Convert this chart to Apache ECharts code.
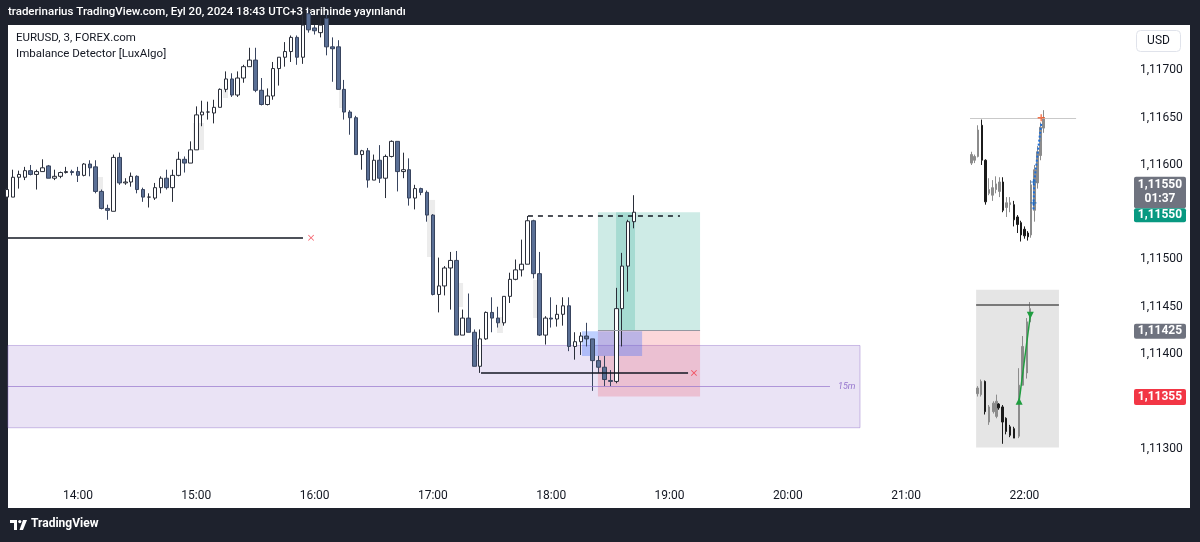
<!DOCTYPE html>
<html lang="tr">
<head>
<meta charset="UTF-8">
<title>EURUSD 3m - Imbalance Detector</title>
<script src="https://cdn.jsdelivr.net/npm/echarts@6/dist/echarts.min.js"></script>
<style>
  html, body { margin: 0; padding: 0; background: #1e222d; }
  #chart { width: 1200px; height: 542px; }
</style>
</head>
<body>
<div id="chart"></div>
<script>
// 3 minute bars, first visible bar 13:24, last (live) bar 18:42
const firstBar = 13 * 60 + 24;
const barStep = 3;
// [open, close, low, high]
const candles = [
  [1.11566,1.11574,1.11563,1.11576],[1.11566,1.11587,1.11566,1.11595],[1.11587,1.11590,1.11575,1.11594],
  [1.11587,1.11594,1.11584,1.11598],[1.11594,1.11590,1.11589,1.11600],[1.11590,1.11593,1.11574,1.11595],
  [1.11593,1.11597,1.11593,1.11606],[1.11599,1.11586,1.11586,1.11600],[1.11586,1.11588,1.11584,1.11595],
  [1.11588,1.11592,1.11586,1.11593],[1.11592,1.11593,1.11591,1.11598],[1.11593,1.11592,1.11589,1.11595],
  [1.11593,1.11589,1.11582,1.11598],[1.11589,1.11601,1.11588,1.11602],[1.11601,1.11597,1.11588,1.11605],
  [1.11598,1.11572,1.11570,1.11605],[1.11572,1.11554,1.11553,1.11574],[1.11554,1.11552,1.11542,1.11558],
  [1.11551,1.11608,1.11551,1.11611],[1.11608,1.11581,1.11579,1.11613],[1.11581,1.11582,1.11579,1.11586],
  [1.11582,1.11588,1.11577,1.11592],[1.11588,1.11574,1.11570,1.11589],[1.11574,1.11566,1.11561,1.11576],
  [1.11566,1.11566,1.11555,1.11570],[1.11565,1.11576,1.11563,1.11581],[1.11576,1.11586,1.11570,1.11588],
  [1.11586,1.11576,1.11574,1.11595],[1.11576,1.11589,1.11561,1.11595],[1.11589,1.11606,1.11588,1.11614],
  [1.11606,1.11602,1.11592,1.11609],[1.11602,1.11616,1.11602,1.11625],[1.11616,1.11653,1.11616,1.11662],
  [1.11653,1.11656,1.11641,1.11668],[1.11656,1.11656,1.11648,1.11667],[1.11655,1.11661,1.11644,1.11669],
  [1.11661,1.11680,1.11661,1.11681],[1.11680,1.11691,1.11677,1.11699],[1.11691,1.11674,1.11672,1.11697],
  [1.11674,1.11692,1.11672,1.11699],[1.11692,1.11704,1.11687,1.11706],[1.11704,1.11711,1.11704,1.11724],
  [1.11711,1.11679,1.11677,1.11724],[1.11679,1.11664,1.11663,1.11692],[1.11664,1.11673,1.11663,1.11681],
  [1.11673,1.11702,1.11669,1.11709],[1.11702,1.11714,1.11684,1.11714],[1.11714,1.11720,1.11704,1.11730],
  [1.11720,1.11735,1.11709,1.11737],[1.11735,1.11714,1.11706,1.11737],[1.11714,1.11748,1.11707,1.11760],
  [1.11760,1.11743,1.11740,1.11765],[1.11745,1.11742,1.11738,1.11748],[1.11740,1.11748,1.11735,1.11756],
  [1.11755,1.11725,1.11716,1.11760],[1.11725,1.11723,1.11688,1.11735],[1.11725,1.11680,1.11680,1.11732],
  [1.11680,1.11656,1.11648,1.11690],[1.11656,1.11650,1.11632,1.11658],[1.11650,1.11611,1.11611,1.11652],
  [1.11611,1.11615,1.11595,1.11616],[1.11615,1.11584,1.11576,1.11618],[1.11584,1.11605,1.11584,1.11611],
  [1.11605,1.11586,1.11581,1.11621],[1.11586,1.11609,1.11565,1.11611],[1.11609,1.11625,1.11608,1.11626],
  [1.11625,1.11593,1.11572,1.11625],[1.11593,1.11595,1.11586,1.11613],[1.11595,1.11565,1.11557,1.11607],
  [1.11565,1.11575,1.11553,1.11579],[1.11575,1.11571,1.11568,1.11576],[1.11571,1.11547,1.11540,1.11573],
  [1.11547,1.11463,1.11462,1.11548],[1.11463,1.11472,1.11444,1.11502],[1.11472,1.11491,1.11462,1.11493],
  [1.11491,1.11499,1.11447,1.11508],[1.11499,1.11420,1.11420,1.11509],[1.11420,1.11438,1.11420,1.11447],
  [1.11438,1.11423,1.11423,1.11464],[1.11423,1.11387,1.11387,1.11426],[1.11387,1.11416,1.11380,1.11426],
  [1.11416,1.11444,1.11415,1.11445],[1.11444,1.11438,1.11423,1.11460],[1.11438,1.11433,1.11428,1.11450],
  [1.11433,1.11461,1.11430,1.11461],[1.11461,1.11479,1.11454,1.11486],[1.11479,1.11489,1.11478,1.11500],
  [1.11489,1.11495,1.11482,1.11521],[1.11495,1.11541,1.11495,1.11546],[1.11541,1.11485,1.11480,1.11542],
  [1.11485,1.11420,1.11419,1.11508],[1.11420,1.11438,1.11410,1.11440],[1.11438,1.11437,1.11428,1.11460],
  [1.11437,1.11442,1.11429,1.11452],[1.11442,1.11451,1.11430,1.11460],[1.11451,1.11408,1.11403,1.11460],
  [1.11408,1.11413,1.11394,1.11423],[1.11413,1.11419,1.11399,1.11423],[1.11419,1.11416,1.11408,1.11433],
  [1.11416,1.11393,1.11361,1.11416],[1.11393,1.11386,1.11380,1.11398],[1.11386,1.11373,1.11366,1.11398],
  [1.11372,1.11371,1.11366,1.11383],[1.11371,1.11448,1.11369,1.11470],[1.11448,1.11493,1.11408,1.11507],
  [1.11493,1.11540,1.11466,1.11542],[1.11540,1.11550,1.11533,1.11568]
];

// faint imbalance shading behind bars, [[minuteFrom, priceTop], [minuteTo, priceBottom]]
const gapShades = [
  [[850.1, 1.115873], [852.7, 1.115556]],
  [[898.3, 1.116444], [903.9, 1.116159]],
  [[913.5, 1.116794], [916.1, 1.116709]],
  [[972.4, 1.116794], [974.4, 1.116603]],
  [[1017.0, 1.115630], [1021.1, 1.115026]],
  [[1032.7, 1.114751], [1035.3, 1.114497]],
  [[1052.5, 1.114392], [1055.5, 1.114222]],
  [[1070.8, 1.114783], [1073.3, 1.114381]]
];

// pasted screenshot #1 (upper right), [minute, open, close, low, high]
const snapA = [
  [1293.2,1.11602,1.11611,1.11600,1.11614],[1294.7,1.11605,1.11609,1.11602,1.11611],
  [1296.4,1.11609,1.11637,1.11608,1.11642],[1298.5,1.11642,1.11605,1.11600,1.11648],
  [1300.3,1.11605,1.11561,1.11558,1.11606],[1302.0,1.11570,1.11574,1.11568,1.11586],
  [1303.8,1.11568,1.11576,1.11562,1.11584],[1305.6,1.11574,1.11580,1.11570,1.11588],
  [1307.4,1.11572,1.11582,1.11566,1.11587],[1309.1,1.11582,1.11552,1.11550,1.11587],
  [1310.9,1.11555,1.11560,1.11545,1.11566],[1312.7,1.11558,1.11560,1.11550,1.11566],
  [1314.7,1.11558,1.11542,1.11535,1.11562],[1316.5,1.11545,1.11537,1.11528,1.11547],
  [1318.3,1.11539,1.11526,1.11519,1.11541],[1320.0,1.11532,1.11525,1.11522,1.11535],
  [1321.8,1.11528,1.11524,1.11520,1.11530],[1323.3,1.11526,1.11579,1.11523,1.11584],
  [1325.1,1.11552,1.11595,1.11540,1.11600],[1326.6,1.11581,1.11614,1.11575,1.11620],
  [1328.1,1.11610,1.11640,1.11605,1.11645],[1329.7,1.11639,1.11650,1.11634,1.11658]
];
const snapAPath = [[1324.6,1.11553],[1325.0,1.11582],[1328.6,1.11645]];
const snapAPlus = [[1324.6,1.11560],[1324.6,1.11582]];
const snapATop = [[1328.5,1.11650]];

// pasted screenshot #2 (grey box), [minute, open, close, low, high]
const snapB = [
  [1296.1,1.11358,1.11364,1.11355,1.11366],[1298.0,1.11357,1.11371,1.11355,1.11373],
  [1300.0,1.11371,1.11339,1.11336,1.11372],[1302.0,1.11328,1.11344,1.11325,1.11346],
  [1304.2,1.11339,1.11348,1.11337,1.11350],[1305.9,1.11334,1.11350,1.11332,1.11357],
  [1306.8,1.11347,1.11343,1.11341,1.11348],[1308.8,1.11344,1.11328,1.11305,1.11346],
  [1310.7,1.11332,1.11318,1.11315,1.11333],[1312.7,1.11323,1.11314,1.11312,1.11325],
  [1314.7,1.11321,1.11311,1.11311,1.11323],[1317.3,1.11313,1.11367,1.11311,1.11385],
  [1319.1,1.11367,1.11408,1.11367,1.11419],[1321.2,1.11380,1.11434,1.11374,1.11438],
  [1322.8,1.11434,1.11448,1.11432,1.11455]
];
const snapBPath = [[1317.3,1.11350],[1323.0,1.11441]];

// drawings
const lastPrice = 1.11550;
const entryPrice = 1.11425;
const targetPrice = 1.11550;
const stopPrice = 1.11355;
const imbalanceZone = [[804.5, 1.11409], [1236.6, 1.11322]];
const imbalanceMid = [[804.5, 1.113655], [1221.4, 1.113655]];
const positionSpan = [1103.7, 1155.5];
const activeSpan = [1112.9, 1122.5];
const blueBox = [[1095.6, 1.11424], [1126.1, 1.11398]];
const snapBBox = [[1295.5, 1.11468], [1337.5, 1.11301]];
const swingLow1 = [[804.5, 1.11523], [954.1, 1.11523]];
const swingLow2 = [[1044.4, 1.11380], [1149.4, 1.11380]];
const swingHigh = [[1068.2, 1.11546], [1145.3, 1.11546]];
const snapALevel = [[1292.4, 1.116497], [1346.2, 1.116497]];
const snapBLevel = [[1295.5, 1.11452], [1337.5, 1.11452]];
const crossMarks = [[958.2, 1.11523], [1152.4, 1.11380]];

const timeTicks = [840, 900, 960, 1020, 1080, 1140, 1200, 1260, 1320];
const priceTicks = [1.113, 1.114, 1.1145, 1.115, 1.116, 1.1165, 1.117];

const FONT = 'Roboto, "DejaVu Sans", sans-serif';
const TEXT = '#131722';
const PLUS = 'path://M4,0h2v4h4v2h-4v4h-2v-4h-4v-2h4z';

const chart = echarts.init(document.getElementById('chart'));

const mainData = candles.map((c, i) => [firstBar + i * barStep, c[0], c[1], c[2], c[3]]);
const seg = (a, style) => [{ coord: a[0], lineStyle: style }, { coord: a[1] }];
const box = (a, style) => [{ coord: a[0], itemStyle: style }, { coord: a[1] }];
const fmtPrice = v => v.toFixed(5).replace('.', ',');

const staticGraphics = [
  { type: 'rect', z: -1, shape: { x: 8, y: 25, width: 1182, height: 483 }, style: { fill: '#ffffff' } },
  { type: 'text', left: 8, top: 6, style: { text: 'traderinarius TradingView.com, Eyl 20, 2024 18:43 UTC+3 tarihinde yayınlandı', fill: '#ffffff', font: '500 11.5px ' + FONT } },
  { type: 'text', left: 16, top: 32, style: { text: 'EURUSD, 3, FOREX.com', fill: TEXT, font: '11.5px ' + FONT } },
  { type: 'text', left: 16, top: 48, style: { text: 'Imbalance Detector [LuxAlgo]', fill: TEXT, font: '11.5px ' + FONT } },
  { type: 'rect', shape: { x: 1136.5, y: 30.5, width: 44, height: 21, r: 4 }, style: { fill: '#ffffff', stroke: '#e0e3eb', lineWidth: 1 } },
  { type: 'text', x: 1158.5, y: 41, style: { text: 'USD', fill: TEXT, font: '12px ' + FONT, align: 'center', verticalAlign: 'middle' } },
  { type: 'polygon', shape: { points: [[10, 520], [17, 520], [17, 530], [14, 530], [14, 523], [10, 523]] }, style: { fill: '#ffffff' } },
  { type: 'circle', shape: { cx: 19.8, cy: 521.6, r: 1.6 }, style: { fill: '#ffffff' } },
  { type: 'polygon', shape: { points: [[23, 520], [27, 520], [23, 530], [19.5, 530]] }, style: { fill: '#ffffff' } },
  { type: 'text', left: 31, top: 518, style: { text: 'TradingView', fill: '#ffffff', font: 'bold 12px ' + FONT } }
];

const option = {
  backgroundColor: '#1e222d',
  animation: false,
  grid: { left: 8, right: 76, top: 25, bottom: 64 },
  xAxis: {
    type: 'value',
    min: 804.5,
    max: 1370.5,
    axisLine: { show: false },
    axisTick: { show: false },
    splitLine: { show: false },
    axisLabel: {
      customValues: timeTicks,
      color: TEXT,
      fontFamily: FONT,
      fontSize: 12,
      margin: 12,
      formatter: v => String(Math.floor(v / 60)).padStart(2, '0') + ':00'
    }
  },
  yAxis: {
    type: 'value',
    position: 'right',
    min: 1.112688,
    max: 1.117481,
    axisLine: { show: false },
    axisTick: { show: false },
    splitLine: { show: false },
    axisLabel: {
      customValues: priceTicks,
      color: TEXT,
      fontFamily: FONT,
      fontSize: 12,
      margin: 16,
      formatter: fmtPrice
    }
  },
  series: [
    {
      name: 'zones',
      type: 'line',
      data: [],
      z: 1,
      markArea: {
        silent: true,
        label: { show: false },
        data: gapShades.map(g => box(g, { color: '#ececec' })).concat([
          box(imbalanceZone, { color: 'rgba(149,117,205,0.2)', borderColor: 'rgba(149,117,205,0.45)', borderWidth: 1 }),
          box(snapBBox, { color: '#e5e5e5' }),
          box([[positionSpan[0], targetPrice], [positionSpan[1], entryPrice]], { color: 'rgba(8,153,129,0.2)' }),
          box([[positionSpan[0], entryPrice], [positionSpan[1], stopPrice]], { color: 'rgba(242,54,69,0.2)' }),
          box([[activeSpan[0], targetPrice], [activeSpan[1], entryPrice]], { color: 'rgba(8,153,129,0.2)' }),
          box(blueBox, { color: 'rgba(41,98,255,0.3)' })
        ])
      }
    },
    {
      name: 'levels',
      type: 'line',
      data: [],
      z: 2,
      markLine: {
        silent: true,
        symbol: 'none',
        label: { show: false },
        data: [
          { yAxis: lastPrice, lineStyle: { color: '#8a8d96', type: [1, 2], width: 1 } },
          seg(swingLow1, { color: '#131722', type: 'solid', width: 1.5 }),
          seg(swingLow2, { color: '#131722', type: 'solid', width: 1.5 }),
          seg(swingHigh, { color: '#131722', type: [5, 5], width: 1.5 }),
          seg([[positionSpan[0], entryPrice], [positionSpan[1], entryPrice]], { color: '#9598a1', type: 'solid', width: 1 }),
          seg(snapALevel, { color: '#c9c9c9', type: 'solid', width: 1 }),
          seg(snapBLevel, { color: '#555555', type: 'solid', width: 1.5 }),
          [
            { coord: imbalanceMid[0], lineStyle: { color: 'rgba(149,117,205,0.7)', type: 'solid', width: 1 },
              label: { show: true, position: 'end', formatter: '15m', color: '#9575cd', fontSize: 9, fontStyle: 'italic', fontFamily: FONT, distance: 8 } },
            { coord: imbalanceMid[1] }
          ]
        ]
      }
    },
    {
      name: 'EURUSD',
      type: 'candlestick',
      data: mainData,
      encode: { x: 0, y: [1, 2, 3, 4] },
      barWidth: 4,
      z: 3,
      clip: true,
      itemStyle: {
        color: '#ffffff',
        color0: '#5a6f95',
        borderColor: '#2a2e39',
        borderColor0: '#38445e',
        borderWidth: 1
      }
    },
    {
      name: 'snapA',
      type: 'candlestick',
      data: snapA,
      encode: { x: 0, y: [1, 2, 3, 4] },
      barWidth: 2,
      z: 3,
      itemStyle: { color: '#8c8c8c', color0: '#1b1b1b', borderColor: '#8c8c8c', borderColor0: '#1b1b1b', borderWidth: 1 }
    },
    {
      name: 'snapB',
      type: 'candlestick',
      data: snapB,
      encode: { x: 0, y: [1, 2, 3, 4] },
      barWidth: 2,
      z: 3,
      itemStyle: { color: '#8c8c8c', color0: '#1b1b1b', borderColor: '#8c8c8c', borderColor0: '#1b1b1b', borderWidth: 1 }
    },
    {
      name: 'snapAPath',
      type: 'line',
      data: snapAPath,
      z: 4,
      symbol: 'none',
      lineStyle: { color: '#1e6fd9', width: 2, type: [2, 2] }
    },
    {
      name: 'snapBPath',
      type: 'line',
      data: [
        { value: snapBPath[0], symbolRotate: 0 },
        { value: snapBPath[1], symbolRotate: 180 }
      ],
      z: 4,
      symbol: 'triangle',
      symbolSize: 7,
      itemStyle: { color: '#1f9d3f' },
      lineStyle: { color: '#1f9d3f', width: 1.5 }
    },
    {
      name: 'plus',
      type: 'scatter',
      data: snapAPlus,
      z: 5,
      symbol: PLUS,
      symbolSize: 6,
      itemStyle: { color: '#1565c0' }
    },
    {
      name: 'top',
      type: 'scatter',
      data: snapATop,
      z: 5,
      symbol: PLUS,
      symbolSize: 7,
      itemStyle: { color: '#f4511e' }
    },
    {
      name: 'cross',
      type: 'scatter',
      data: crossMarks,
      z: 5,
      symbol: 'path://M1,0L5,4L9,0L10,1L6,5L10,9L9,10L5,6L1,10L0,9L4,5L0,1Z',
      symbolSize: 6,
      itemStyle: { color: '#f23645' }
    }
  ],
  graphic: staticGraphics
};

chart.setOption(option);

// price-scale badges, placed through the y axis
const yOf = p => chart.convertToPixel({ yAxisIndex: 0 }, p);
const badgeX = 1134, badgeW = 52, midX = badgeX + badgeW / 2;
const yLast = yOf(lastPrice), yEntry = yOf(entryPrice), yStop = yOf(stopPrice);
const badgeFont = 'bold 12px ' + FONT;
const badgeText = (y, text) => ({ type: 'text', z: 51, x: midX, y: y, style: { text: text, fill: '#ffffff', font: badgeFont, align: 'center', verticalAlign: 'middle' } });
const badgeRect = (y, h, fill) => ({ type: 'rect', z: 50, shape: { x: badgeX, y: y, width: badgeW, height: h, r: 2 }, style: { fill: fill } });

chart.setOption({
  graphic: staticGraphics.concat([
    badgeRect(yLast - 35.5, 31.5, '#6f737f'),
    badgeText(yLast - 27, fmtPrice(lastPrice)),
    badgeText(yLast - 13, '01:37'),
    badgeRect(yLast - 4, 14, '#089981'),
    badgeText(yLast + 3, fmtPrice(targetPrice)),
    badgeRect(yEntry - 6.5, 15, '#6f737f'),
    badgeText(yEntry + 1, fmtPrice(entryPrice)),
    badgeRect(yStop - 7.5, 16, '#f23645'),
    badgeText(yStop + 0.5, fmtPrice(stopPrice))
  ])
}, { replaceMerge: ['graphic'] });
</script>
</body>
</html>
